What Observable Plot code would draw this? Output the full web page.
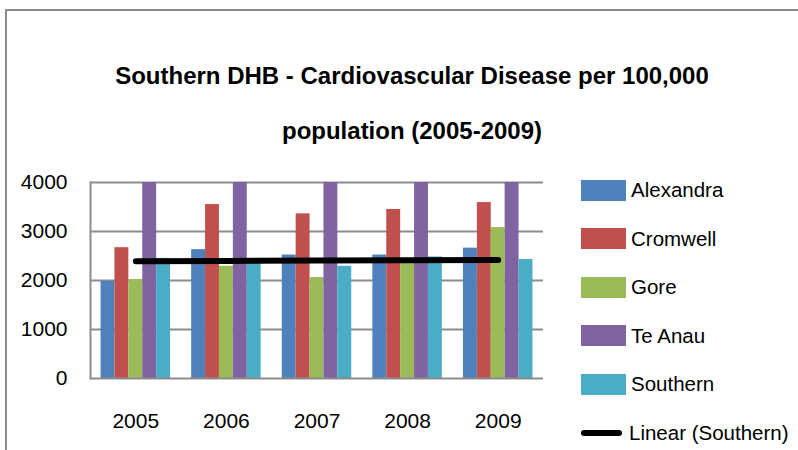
<!DOCTYPE html>
<html><head><meta charset="utf-8">
<script src="https://cdn.jsdelivr.net/npm/d3@7"></script>
<script src="https://cdn.jsdelivr.net/npm/@observablehq/plot@0.6"></script>
<style>
body{margin:0;background:#fff;}
#wrap{position:relative;width:798px;height:450px;overflow:hidden;font-family:"Liberation Sans",Arial,sans-serif;color:#000;}
#frame{position:absolute;left:5px;top:9px;width:900px;height:600px;border-left:2px solid #8c8c8c;border-top:2px solid #8c8c8c;}
#title{position:absolute;left:0;width:824px;top:48px;text-align:center;font-weight:bold;font-size:24px;line-height:55px;}
#chart{position:absolute;left:0;top:0;}
.lg{position:absolute;left:579px;height:30px;display:flex;align-items:center;font-size:20.5px;white-space:nowrap;}
.sw{width:45px;height:21px;margin-left:2px;margin-right:5px;}
.ln{width:41px;height:6px;border-radius:3px;background:#000;margin-left:2px;margin-right:7px;}
</style></head>
<body>
<div id="wrap">
  <div id="frame"></div>
  <div id="title">Southern DHB - Cardiovascular Disease per 100,000<br>population (2005-2009)</div>
  <div id="chart"></div>
  <div id="legend"></div>
</div>
<script>
const years = ["2005", "2006", "2007", "2008", "2009"];
const seriesNames = ["Alexandra", "Cromwell", "Gore", "Te Anau", "Southern"];
const seriesColors = ["#4F81BD", "#C0504D", "#9BBB59", "#8064A2", "#4BACC6"];
const alexandra = [1980, 2630, 2520, 2520, 2660];
const cromwell = [2670, 3550, 3360, 3450, 3590];
const gore = [2020, 2290, 2060, 2400, 3080];
const teAnau = [4600, 4500, 4700, 4500, 4800];
const southern = [2450, 2380, 2290, 2480, 2430];
const yTicks = [0, 1000, 2000, 3000, 4000];
const trendLabel = "Linear (Southern)";

const seriesValues = [alexandra, cromwell, gore, teAnau, southern];

// linear trend of Southern
const n = southern.length;
const mx = (n - 1) / 2;
const my = d3.mean(southern);
let num = 0, den = 0;
southern.forEach((v, i) => { num += (i - mx) * (v - my); den += (i - mx) ** 2; });
const slope = num / den;
const trend = years.map((yr, i) => ({year: yr, value: my + slope * (i - mx)}));

const W = 798, H = 450, mL = 90, mR = 255, mT = 182, mB = 72;
const band = (W - mL - mR) / years.length;
const groupFrac = 0.767;
const barW = band * groupFrac / seriesNames.length;
const gap = (band - band * groupFrac) / 2;

const bars = seriesValues.map((vals, i) => {
  const left = gap + i * barW;
  const right = band - left - barW;
  return Plot.barY(years.map((yr, j) => ({year: yr, value: vals[j]})), {
    x: "year", y: "value", fill: seriesColors[i],
    insetLeft: left, insetRight: right, clip: true
  });
});

const chart = Plot.plot({
  width: W, height: H,
  marginTop: mT, marginBottom: mB, marginLeft: mL, marginRight: mR,
  x: {domain: years, padding: 0, round: false, label: null},
  y: {domain: [0, 4000], ticks: yTicks, label: null},
  style: {fontFamily: '"Liberation Sans",Arial,sans-serif', fontSize: "21px", color: "#000", background: "transparent", overflow: "visible"},
  marks: [
    Plot.ruleY(yTicks.slice(1), {stroke: "#8c8c8c", strokeWidth: 2}),
    ...bars,
    Plot.ruleY([0], {stroke: "#8c8c8c", strokeWidth: 2}),
    Plot.frame({anchor: "left", stroke: "#8c8c8c", strokeWidth: 2}),
    Plot.lineY(trend, {x: "year", y: "value", stroke: "#000", strokeWidth: 6, strokeLinecap: "round"}),
    Plot.axisY(yTicks, {tickSize: 0, tickPadding: 23, fontSize: 21, tickFormat: d3.format("d"), label: null}),
    Plot.axisX({tickSize: 0, tickPadding: 35, fontSize: 21, label: null})
  ]
});
document.getElementById("chart").appendChild(chart);

const legend = document.getElementById("legend");
const rowCenters = 190, rowStep = 48.6;
seriesNames.forEach((name, i) => {
  const d = document.createElement("div");
  d.className = "lg";
  d.style.top = (rowCenters + i * rowStep - 15) + "px";
  d.innerHTML = `<div class="sw" style="background:${seriesColors[i]}"></div><span>${name}</span>`;
  legend.appendChild(d);
});
const t = document.createElement("div");
t.className = "lg";
t.style.top = (rowCenters + 5 * rowStep - 15) + "px";
t.innerHTML = `<div class="ln"></div><span>${trendLabel}</span>`;
legend.appendChild(t);
</script>
</body></html>
